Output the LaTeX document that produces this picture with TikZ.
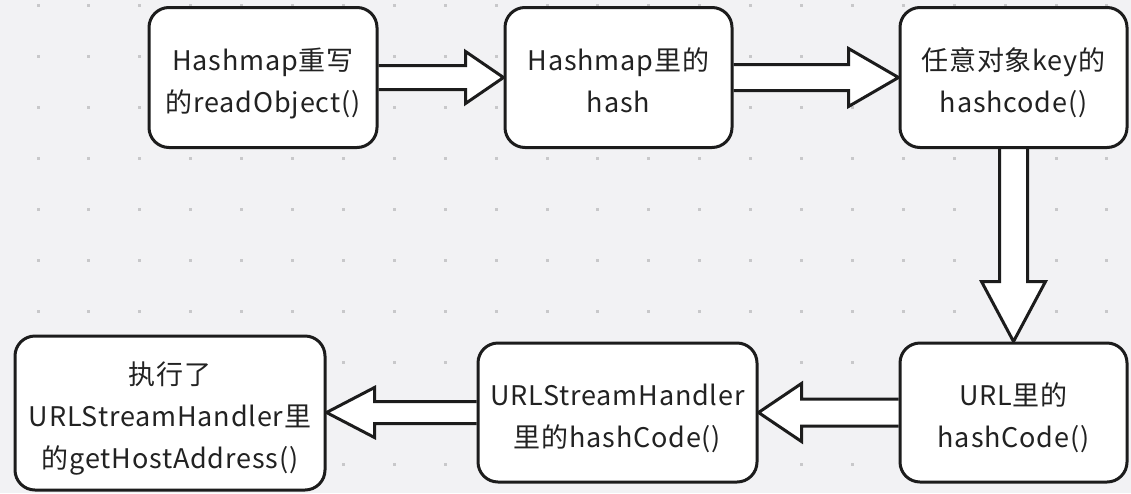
\documentclass[tikz,border=0pt]{standalone}
\usepackage{fontspec}
\setmainfont[LetterSpace=3]{Noto Sans CJK SC}
\usetikzlibrary{calc}
\pgfdeclarelayer{back}
\pgfsetlayers{back,main}
\definecolor{bg}{HTML}{F2F2F4}
\definecolor{dotc}{HTML}{C8C8CA}
\definecolor{ink}{HTML}{1C1C1C}
\definecolor{txt}{HTML}{222222}
\newcommand{\boxlines}[1]{\raisebox{-5.5pt}[\height][\depth]{\begin{tabular}{@{}c@{}}#1\end{tabular}}}
\tikzset{
  box/.style={draw=ink, line width=3pt, fill=white, rounded corners=20pt,
    text=txt, inner sep=0pt,
    font=\fontsize{27}{42}\selectfont},
  fat/.style={draw=ink, line width=3pt, fill=white, line join=miter}
}
\begin{document}
\begin{tikzpicture}[x=1pt,y=-1pt]
% nodes
\path
 (263,77.5)    node[box, minimum width=228pt, minimum height=140pt] (b1) {\boxlines{Hashmap重写\\的readObject()}}
 (618.5,77.5)  node[box, minimum width=227pt, minimum height=140pt] (b2) {\boxlines{Hashmap里的\\hash}}
 (1013.5,77.5) node[box, minimum width=227pt, minimum height=140pt] (b3) {\boxlines{任意对象key的\\hashcode()}}
 (1013.5,412.5) node[box, minimum width=227pt, minimum height=139pt] (b4) {\boxlines{URL里的\\hashCode()}}
 (617.5,412.5) node[box, minimum width=279pt, minimum height=139pt] (b5) {\boxlines{URLStreamHandler\\里的hashCode()}}
 (170,413)     node[box, minimum width=310pt, minimum height=154pt] (b6) {\boxlines{执行了\\URLStreamHandler里\\的getHostAddress()}};
\begin{pgfonlayer}{back}
\fill[bg] (0,0) rectangle (1131,493);
\foreach \i in {0,...,21}{
  \foreach \j in {0,...,9}{
    \fill[dotc] ({38+50.9*\i-1.5},{5+51*\j-1.5}) rectangle ++(3,3);
  }
}
% fat arrows
\draw[fat] let \p1=(b1.east), \p2=(b2.west) in
  (\x1,\y1+12) -- (\x2-38,\y1+12) -- (\x2-38,\y1+26) -- (\x2,\y1) -- (\x2-38,\y1-26) -- (\x2-38,\y1-12) -- (\x1,\y1-12);
\draw[fat] let \p1=(b2.east), \p2=(b3.west) in
  (\x1,\y1+13) -- (\x2-50,\y1+13) -- (\x2-50,\y1+29) -- (\x2,\y1) -- (\x2-50,\y1-29) -- (\x2-50,\y1-13) -- (\x1,\y1-13);
\draw[fat] let \p1=(b3.south), \p2=(b4.north) in
  (\x1-14,\y1) -- (\x1-14,\y2+60) -- (\x1-32,\y2+60) -- (\x1,\y2) -- (\x1+32,\y2+60) -- (\x1+14,\y2+60) -- (\x1+14,\y1);
\draw[fat] let \p1=(b4.west), \p2=(b5.east) in
  (\x1,\y1+13.5) -- (\x2+43,\y1+13.5) -- (\x2+43,\y1+29) -- (\x2,\y1) -- (\x2+43,\y1-29) -- (\x2+43,\y1-13.5) -- (\x1,\y1-13.5);
\draw[fat] let \p1=(b5.west), \p2=(b6.east) in
  (\x1,\y1+11) -- (\x2+48,\y1+11) -- (\x2+48,\y1+25) -- (\x2,\y1) -- (\x2+48,\y1-25) -- (\x2+48,\y1-11) -- (\x1,\y1-11);
\end{pgfonlayer}
\useasboundingbox (0,0) rectangle (1131,493);
\end{tikzpicture}
\end{document}
